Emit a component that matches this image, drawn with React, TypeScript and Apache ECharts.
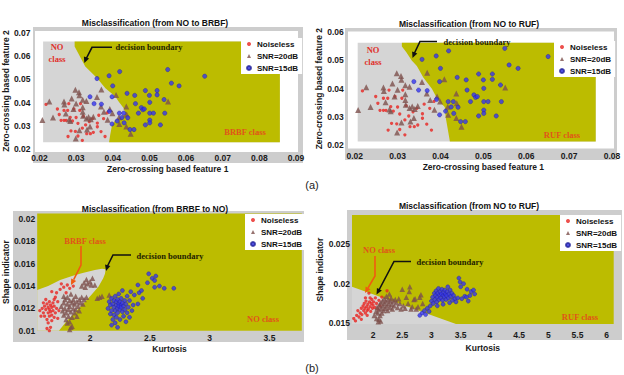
import React, { useEffect, useRef } from 'react';
import * as echarts from 'echarts';

// ---------- names / texts ----------
const seriesNames = ['Noiseless', 'SNR=20dB', 'SNR=15dB'];
const plotTitles = [
  'Misclassification (from NO to BRBF)',
  'Misclassification (from NO to RUF)',
  'Misclassification (from BRBF to NO)',
  'Misclassification (from NO to RUF)',
];
const xNames = ['Zero-crossing based feature 1', 'Zero-crossing based feature 1', 'Kurtosis', 'Kurtosis'];
const yNames = ['Zero-crossing based feature 2', 'Zero-crossing based feature 2', 'Shape indicator', 'Shape indicator'];

// ---------- tick labels ----------
const xTicksA1 = [0.02, 0.03, 0.04, 0.05, 0.06, 0.07, 0.08, 0.09];
const yTicksA1 = [0.02, 0.03, 0.04, 0.05, 0.06, 0.07];
const xTicksA2 = [0.02, 0.03, 0.04, 0.05, 0.06, 0.07, 0.08];
const yTicksA2 = [0.02, 0.03, 0.04, 0.05, 0.06];
const xTicksB1 = [2, 2.5, 3, 3.5];
const yTicksB1 = [0.01, 0.012, 0.014, 0.016, 0.018, 0.02];
const xTicksB2 = [2, 2.5, 3, 3.5, 4, 4.5, 5, 5.5, 6];
const yTicksB2 = [0.015, 0.02, 0.025];

// ---------- (a) zero-crossing features (same samples in both plots) ----------
const zcNoiseless = [
  [0.0218, 0.0392], [0.0249, 0.0372], [0.0254, 0.0348], [0.0259, 0.0323], [0.0267, 0.0323], [0.0273, 0.0323],
  [0.0267, 0.0366], [0.0277, 0.0366], [0.0284, 0.0336], [0.0286, 0.0277], [0.0278, 0.0253], [0.0298, 0.0275],
  [0.0294, 0.0372], [0.031, 0.0366], [0.0317, 0.0289], [0.0317, 0.0236], [0.032, 0.034], [0.0329, 0.0265],
  [0.0339, 0.0265], [0.0347, 0.0271], [0.0358, 0.0311], [0.0358, 0.0295], [0.0368, 0.0274], [0.0379, 0.0253],
  [0.029, 0.032], [0.03, 0.0335], [0.0305, 0.031], [0.0312, 0.0395], [0.028, 0.0395], [0.0326, 0.0303],
  [0.0336, 0.0318], [0.0345, 0.033], [0.0362, 0.0345], [0.0375, 0.033], [0.0385, 0.0355], [0.0305, 0.0255],
];
const zcSnr20 = [
  [0.0208, 0.0324], [0.0227, 0.0405], [0.0237, 0.0335], [0.0267, 0.0404], [0.0268, 0.0392], [0.0272, 0.0352],
  [0.0281, 0.0326], [0.0284, 0.032], [0.0288, 0.0418], [0.0298, 0.0455], [0.0308, 0.0445], [0.0309, 0.0432],
  [0.03, 0.0396], [0.0293, 0.0372], [0.0299, 0.0244], [0.0318, 0.0412], [0.0318, 0.038], [0.0318, 0.036],
  [0.0319, 0.0343], [0.0328, 0.0331], [0.0334, 0.0337], [0.0347, 0.0338], [0.034, 0.0328], [0.0328, 0.0407],
  [0.0338, 0.0296], [0.0309, 0.028], [0.0357, 0.0424], [0.0369, 0.0456], [0.0368, 0.0383], [0.0376, 0.036],
  [0.0386, 0.0325], [0.0392, 0.0372], [0.0399, 0.0354], [0.0409, 0.0433], [0.0417, 0.0336], [0.0418, 0.0307],
  [0.0437, 0.0383], [0.0438, 0.0348], [0.0437, 0.0296], [0.0449, 0.0265], [0.0551, 0.0404], [0.033, 0.0283],
];
const zcSnr15 = [
  [0.0338, 0.0425], [0.0349, 0.0395], [0.0369, 0.0393], [0.0357, 0.0504], [0.039, 0.0516], [0.0391, 0.0362],
  [0.04, 0.0472], [0.0398, 0.0425], [0.0398, 0.0307], [0.0419, 0.0534], [0.0418, 0.0354], [0.043, 0.0354],
  [0.0431, 0.0312], [0.0439, 0.044], [0.0441, 0.0334], [0.0447, 0.0283], [0.0458, 0.0283], [0.046, 0.0431],
  [0.0462, 0.0395], [0.047, 0.0354], [0.0478, 0.0378], [0.0482, 0.0369], [0.0486, 0.0372], [0.0489, 0.0452],
  [0.0489, 0.0303], [0.05, 0.0431], [0.0501, 0.0401], [0.0501, 0.0354], [0.0501, 0.0324], [0.0501, 0.0312],
  [0.0511, 0.0354], [0.0521, 0.0452], [0.0521, 0.0433], [0.054, 0.0413], [0.0542, 0.0354], [0.055, 0.0543],
  [0.056, 0.0484], [0.0581, 0.0472], [0.0651, 0.0514], [0.053, 0.0303], [0.0425, 0.0335], [0.0412, 0.032],
];

// ---------- (b) left: BRBF -> NO ----------
const kuBrbfNoiseless = [
  [1.58, 0.0118], [1.6, 0.012], [1.61, 0.0116], [1.62, 0.0122], [1.62, 0.0113], [1.63, 0.0128], [1.63, 0.0119],
  [1.64, 0.0124], [1.64, 0.011], [1.65, 0.0121], [1.65, 0.0116], [1.65, 0.0107], [1.66, 0.0126], [1.66, 0.0119],
  [1.66, 0.0113], [1.67, 0.0123], [1.67, 0.0117], [1.67, 0.0103], [1.68, 0.0135], [1.68, 0.0121], [1.68, 0.0114],
  [1.68, 0.0109], [1.69, 0.0125], [1.69, 0.0118], [1.7, 0.0122], [1.7, 0.0112], [1.71, 0.013], [1.71, 0.0116],
  [1.72, 0.012], [1.72, 0.0134], [1.73, 0.0126], [1.74, 0.0118], [1.75, 0.0137], [1.76, 0.0142], [1.78, 0.0139],
  [1.8, 0.0134], [1.81, 0.0141], [1.83, 0.0138], [1.86, 0.014], [1.64, 0.0102], [1.66, 0.01], [1.61, 0.0125],
  [1.59, 0.0113], [1.7, 0.0128], [1.73, 0.0111],
];
const kuBrbfSnr20 = [
  [1.76, 0.0122], [1.77, 0.0118], [1.78, 0.0125], [1.78, 0.0114], [1.79, 0.0128], [1.79, 0.012], [1.8, 0.0116],
  [1.8, 0.011], [1.81, 0.0124], [1.81, 0.013], [1.82, 0.0119], [1.82, 0.0113], [1.83, 0.0127], [1.83, 0.0122],
  [1.83, 0.0108], [1.84, 0.0117], [1.84, 0.0133], [1.85, 0.0125], [1.85, 0.0112], [1.85, 0.0104], [1.86, 0.012],
  [1.86, 0.0128], [1.87, 0.0116], [1.87, 0.0124], [1.88, 0.0131], [1.88, 0.0119], [1.89, 0.0126], [1.89, 0.0113],
  [1.9, 0.0122], [1.91, 0.0128], [1.91, 0.0118], [1.92, 0.0125], [1.93, 0.013], [1.94, 0.0124], [1.95, 0.0128],
  [1.97, 0.013], [1.83, 0.0101], [1.84, 0.0103], [1.78, 0.0131], [1.81, 0.0107], [1.93, 0.014], [1.95, 0.0143],
  [1.96, 0.0139], [1.97, 0.0146], [1.98, 0.0142], [2.0, 0.0144], [2.01, 0.0141], [2.04, 0.0141], [2.02, 0.0147],
  [2.06, 0.0129], [2.08, 0.013], [2.1, 0.0131], [2.16, 0.0132],
];
const kuBrbfSnr15 = [
  [2.15, 0.012], [2.16, 0.0126], [2.17, 0.0115], [2.17, 0.0123], [2.18, 0.0129], [2.18, 0.0118], [2.19, 0.011],
  [2.19, 0.0124], [2.2, 0.0121], [2.2, 0.0127], [2.2, 0.0114], [2.21, 0.0131], [2.21, 0.0118], [2.21, 0.0107],
  [2.22, 0.0123], [2.22, 0.0126], [2.22, 0.0112], [2.23, 0.012], [2.23, 0.0128], [2.23, 0.0116], [2.24, 0.0124],
  [2.24, 0.0122], [2.24, 0.0133], [2.25, 0.0119], [2.25, 0.0126], [2.25, 0.011], [2.26, 0.0123], [2.26, 0.0121],
  [2.26, 0.0129], [2.27, 0.0117], [2.27, 0.0125], [2.27, 0.0136], [2.28, 0.0122], [2.28, 0.0113], [2.29, 0.0127],
  [2.29, 0.0119], [2.3, 0.0124], [2.3, 0.0108], [2.31, 0.0131], [2.31, 0.0116], [2.32, 0.0121], [2.33, 0.0127],
  [2.33, 0.0112], [2.34, 0.0135], [2.35, 0.0118], [2.36, 0.0123], [2.37, 0.0132], [2.4, 0.0124], [2.4, 0.0141],
  [2.41, 0.0134], [2.44, 0.0129], [2.43, 0.0136], [2.48, 0.0143], [2.49, 0.0151], [2.52, 0.0147], [2.54, 0.0145],
  [2.55, 0.0149], [2.54, 0.0139], [2.58, 0.014], [2.62, 0.0138], [2.7, 0.0138], [2.18, 0.0105], [2.23, 0.0103],
];

// ---------- (b) right: NO -> RUF ----------
const kuRufNoiseless = [
  [1.67, 0.0156], [1.7, 0.0153], [1.72, 0.016], [1.74, 0.0166], [1.76, 0.0158], [1.78, 0.0163], [1.8, 0.0169],
  [1.81, 0.0161], [1.83, 0.0172], [1.84, 0.0166], [1.85, 0.0175], [1.86, 0.0169], [1.87, 0.0163], [1.88, 0.0178],
  [1.89, 0.0171], [1.9, 0.0166], [1.91, 0.0174], [1.92, 0.0168], [1.93, 0.0188], [1.94, 0.0177], [1.95, 0.0171],
  [1.96, 0.0165], [1.97, 0.0175], [1.98, 0.018], [1.99, 0.0169], [2.0, 0.0173], [2.01, 0.0177], [2.03, 0.017],
  [2.04, 0.0182], [2.06, 0.0175], [2.08, 0.0168], [2.1, 0.0179], [2.12, 0.0172], [2.15, 0.0183], [2.24, 0.0191],
  [1.8, 0.0155], [1.9, 0.016], [1.95, 0.0182], [1.87, 0.0182],
];
const kuRufSnr20 = [
  [2.02, 0.016], [2.05, 0.0165], [2.06, 0.0156], [2.07, 0.017], [2.08, 0.0163], [2.09, 0.0152], [2.1, 0.0167],
  [2.11, 0.0173], [2.12, 0.016], [2.13, 0.0176], [2.14, 0.0169], [2.15, 0.0163], [2.16, 0.0178], [2.17, 0.0172],
  [2.18, 0.0166], [2.19, 0.0181], [2.2, 0.0175], [2.21, 0.0169], [2.22, 0.0178], [2.23, 0.0184], [2.24, 0.0172],
  [2.25, 0.0166], [2.26, 0.018], [2.27, 0.0175], [2.28, 0.0187], [2.29, 0.017], [2.3, 0.0178], [2.31, 0.0182],
  [2.32, 0.0174], [2.33, 0.0168], [2.35, 0.0178], [2.36, 0.0172], [2.38, 0.018], [2.4, 0.0176], [2.42, 0.017],
  [2.44, 0.0181], [2.46, 0.0175], [2.48, 0.0168], [2.5, 0.0193], [2.52, 0.0172], [2.55, 0.0169], [2.57, 0.0183],
  [2.6, 0.0175], [2.62, 0.019], [2.63, 0.0196], [2.65, 0.0168], [2.67, 0.0171], [2.7, 0.018], [2.72, 0.0181],
  [2.74, 0.0168], [2.77, 0.0171], [2.8, 0.0183], [2.82, 0.0186], [2.85, 0.0175], [2.1, 0.0155], [2.13, 0.0153],
];
const kuRufSnr15 = [
  [2.8, 0.016], [2.84, 0.0163], [2.88, 0.0166], [2.9, 0.0161], [2.93, 0.0169], [2.96, 0.0165], [2.98, 0.0172],
  [3.0, 0.0178], [3.02, 0.0183], [3.03, 0.0175], [3.05, 0.0188], [3.06, 0.018], [3.07, 0.0185], [3.08, 0.0191],
  [3.09, 0.0177], [3.1, 0.0183], [3.11, 0.0188], [3.12, 0.0194], [3.13, 0.018], [3.14, 0.0186], [3.15, 0.019],
  [3.16, 0.0182], [3.17, 0.0187], [3.18, 0.0193], [3.19, 0.0179], [3.2, 0.0185], [3.21, 0.0189], [3.22, 0.0183],
  [3.23, 0.0192], [3.24, 0.0187], [3.25, 0.018], [3.26, 0.0185], [3.27, 0.019], [3.28, 0.0196], [3.29, 0.0182],
  [3.3, 0.0187], [3.31, 0.0176], [3.32, 0.0192], [3.33, 0.0184], [3.35, 0.0188], [3.36, 0.0179], [3.38, 0.0185],
  [3.4, 0.0181], [3.42, 0.0177], [3.45, 0.0182], [3.47, 0.0207], [3.49, 0.0202], [3.5, 0.0196], [3.52, 0.0181],
  [3.55, 0.02], [3.57, 0.0184], [3.6, 0.0183], [3.61, 0.0193], [3.63, 0.0178], [3.66, 0.0185], [3.68, 0.019],
  [3.72, 0.0192], [3.74, 0.0187], [3.1, 0.0172], [3.2, 0.0174],
];

// ---------- class regions (decision regions) ----------
const regionA1Grey = [[0.021, 0.0228], [0.0856, 0.0228], [0.0856, 0.0664], [0.021, 0.0664]];
const regionA1Yellow = [
  [0.0296, 0.0664], [0.0856, 0.0664], [0.0856, 0.0228], [0.039, 0.0228], [0.0393, 0.0259], [0.0398, 0.0302],
  [0.0407, 0.0323], [0.0435, 0.035], [0.043, 0.0375], [0.0416, 0.0404], [0.0407, 0.0426], [0.038, 0.0462],
  [0.0357, 0.0506], [0.0325, 0.0556], [0.0296, 0.0643],
];
const regionA2Grey = [[0.0207, 0.0212], [0.0762, 0.0212], [0.0762, 0.0563], [0.0207, 0.0563]];
const regionA2Yellow = [
  [0.031, 0.0563], [0.0762, 0.0563], [0.0762, 0.0212], [0.0422, 0.0212], [0.0412, 0.03], [0.041, 0.0335],
  [0.0394, 0.036], [0.038, 0.04], [0.036, 0.044], [0.0345, 0.048], [0.0333, 0.05], [0.032, 0.053], [0.031, 0.055],
];
const regionB1Yellow = [[1.558, 0.01], [3.77, 0.01], [3.77, 0.0205], [1.558, 0.0205]];
const regionB1Grey = [
  [1.558, 0.01], [1.558, 0.01365], [1.65, 0.014], [1.75, 0.01455], [1.85, 0.0149], [1.93, 0.01515],
  [2.04, 0.01544], [2.1, 0.01556], [2.13, 0.01552], [2.125, 0.0151], [2.11, 0.0147], [2.07, 0.01395],
  [2.01, 0.0132], [1.95, 0.0125], [1.88, 0.0117], [1.8, 0.0108], [1.74, 0.01],
];
const regionB2Yellow = [[1.64, 0.0149], [6.12, 0.0149], [6.12, 0.02866], [1.64, 0.02866]];
const regionB2Grey = [[1.64, 0.0149], [1.64, 0.0196], [3.42, 0.0149]];

// ---------- colours ----------
const RED = '#e8231f';
const BROWN = '#7d504c';
const BLUE = '#3535f0';
const YELLOW = '#bcbc00';
const REGION_GREY = '#d5d5d5';
const FRAME_GREY = '#cdcdcd';
const SANS = 'Liberation Sans, Arial, sans-serif';
const SERIF = 'Liberation Serif, Times New Roman, serif';

const grids = [
  { left: 39, top: 33.3, width: 257, height: 115.4 },
  { left: 354.7, top: 32.3, width: 257.3, height: 112.7 },
  { left: 35, top: 213.6, width: 266.8, height: 117.1 },
  { left: 352, top: 215, width: 261.7, height: 109.1 },
];
const xRanges = [[0.02, 0.09], [0.02, 0.08], [1.558, 3.77], [1.64, 6.12]];
const yRanges = [[0.02, 0.07], [0.02, 0.06], [0.01, 0.0205], [0.0149, 0.02866]];
const xTicks = [xTicksA1, xTicksA2, xTicksB1, xTicksB2];
const yTicks = [yTicksA1, yTicksA2, yTicksB1, yTicksB2];
const xLabelMargin = [5, 6, 3, 6];
const yLabelMargin = [9, 11, 2, 2];
const xNameGap = [16, 17, 14, 19];
const yNameGap = [27, 30, 23, 25];

const fmt = (v: number) => String(parseFloat(v.toFixed(4)));

function polySeries(pts: number[][], color: string, idx: number) {
  return {
    type: 'custom',
    xAxisIndex: idx,
    yAxisIndex: idx,
    silent: true,
    z: 1,
    data: [pts[0]],
    renderItem: (params: any, api: any) => ({
      type: 'polygon',
      shape: { points: pts.map((p) => api.coord(p)) },
      style: { fill: color },
    }),
  };
}

function scatterSeries(data: number[][], kind: number, idx: number, dense: boolean) {
  const sym = ['circle', 'triangle', 'circle'][kind];
  const size = dense ? [3.3, 5.5, 4][kind] : [3.3, 6, 4.3][kind];
  const color = [RED, BROWN, BLUE][kind];
  return {
    type: 'scatter',
    name: seriesNames[kind],
    xAxisIndex: idx,
    yAxisIndex: idx,
    z: 3,
    symbol: sym,
    symbolSize: size,
    itemStyle: kind === 2 ? { color, borderColor: '#22229a', borderWidth: 0.5 } : { color },
    data,
  };
}

function arrow(points: number[][], color: string) {
  const n = points.length;
  const [x1, y1] = points[n - 2];
  const [x2, y2] = points[n - 1];
  const ang = Math.atan2(y2 - y1, x2 - x1);
  const L = 6;
  const W = 2.8;
  const bx = x2 - L * Math.cos(ang);
  const by = y2 - L * Math.sin(ang);
  const px = -Math.sin(ang) * W;
  const py = Math.cos(ang) * W;
  return [
    {
      type: 'polyline',
      z: 60,
      shape: { points: [...points.slice(0, -1), [bx, by]] },
      style: { stroke: color, lineWidth: 1.6, fill: null },
    },
    {
      type: 'polygon',
      z: 60,
      shape: { points: [[x2, y2], [bx + px, by + py], [bx - px, by - py]] },
      style: { fill: color },
    },
  ];
}

function txt(x: number, y: number, text: string, opts: any) {
  return {
    type: 'text',
    z: 60,
    x,
    y,
    style: {
      text,
      textAlign: 'center',
      textVerticalAlign: 'middle',
      font: opts.font,
      fill: opts.fill,
    },
  };
}

export default function App() {
  const ref = useRef<HTMLDivElement>(null);
  useEffect(() => {
    if (!ref.current) return;
    const chart = echarts.init(ref.current, undefined, { renderer: 'svg' });

    const axisLabelStyle = { color: '#1a1a1a', fontSize: 8.5, fontWeight: 'bold', fontFamily: SANS };
    const nameStyle = { color: '#1a1a1a', fontSize: 8.5, fontWeight: 'bold', fontFamily: SANS };

    const xAxis = grids.map((_, i) => ({
      type: 'value',
      gridIndex: i,
      min: xRanges[i][0],
      max: xRanges[i][1],
      name: xNames[i],
      nameLocation: 'middle',
      nameGap: xNameGap[i],
      nameTextStyle: nameStyle,
      axisLine: { show: false },
      axisTick: { show: false },
      splitLine: { show: false },
      axisLabel: { ...axisLabelStyle, customValues: xTicks[i], margin: xLabelMargin[i], formatter: fmt },
    }));
    const yAxis = grids.map((_, i) => ({
      type: 'value',
      gridIndex: i,
      min: yRanges[i][0],
      max: yRanges[i][1],
      name: yNames[i],
      nameLocation: 'middle',
      nameGap: yNameGap[i],
      nameTextStyle: nameStyle,
      axisLine: { show: false },
      axisTick: { show: false },
      splitLine: { show: false },
      axisLabel: { ...axisLabelStyle, customValues: yTicks[i], margin: yLabelMargin[i], formatter: fmt },
    }));

    const series: any[] = [
      polySeries(regionA1Grey, REGION_GREY, 0),
      polySeries(regionA1Yellow, YELLOW, 0),
      polySeries(regionA2Grey, REGION_GREY, 1),
      polySeries(regionA2Yellow, YELLOW, 1),
      polySeries(regionB1Yellow, YELLOW, 2),
      polySeries(regionB1Grey, REGION_GREY, 2),
      polySeries(regionB2Yellow, YELLOW, 3),
      polySeries(regionB2Grey, REGION_GREY, 3),
      scatterSeries(zcNoiseless, 0, 0, false),
      scatterSeries(zcSnr20, 1, 0, false),
      scatterSeries(zcSnr15, 2, 0, false),
      scatterSeries(zcNoiseless, 0, 1, false),
      scatterSeries(zcSnr20, 1, 1, false),
      scatterSeries(zcSnr15, 2, 1, false),
      scatterSeries(kuBrbfNoiseless, 0, 2, true),
      scatterSeries(kuBrbfSnr20, 1, 2, true),
      scatterSeries(kuBrbfSnr15, 2, 2, true),
      scatterSeries(kuRufNoiseless, 0, 3, true),
      scatterSeries(kuRufSnr20, 1, 3, true),
      scatterSeries(kuRufSnr15, 2, 3, true),
    ];

    const legendPos = [
      { left: 241, top: 38 },
      { left: 554, top: 41 },
      { left: 245, top: 214 },
      { left: 560, top: 215 },
    ];
    const legend = legendPos.map((p) => ({
      ...p,
      orient: 'vertical',
      data: seriesNames,
      backgroundColor: '#ffffff',
      padding: [2, 4, 2, 5],
      itemGap: 4,
      itemWidth: 4,
      itemHeight: 4,
      selectedMode: false,
      textStyle: { fontSize: 8, fontWeight: 'bold', fontFamily: SANS, color: '#111', padding: [0, 0, 0, 1] },
    }));

    const titleFont = `bold 8.5px ${SANS}`;
    const annFont = `bold 8.5px ${SERIF}`;
    const graphic: any[] = [
      // frames
      { type: 'rect', z: -10, shape: { x: 33, y: 27, width: 270, height: 136 }, style: { fill: FRAME_GREY } },
      { type: 'rect', z: -9, shape: { x: 35, y: 31, width: 263, height: 121 }, style: { fill: '#ffffff' } },
      { type: 'rect', z: -10, shape: { x: 345, y: 28, width: 272, height: 132 }, style: { fill: FRAME_GREY } },
      { type: 'rect', z: -9, shape: { x: 348, y: 31.5, width: 266, height: 117 }, style: { fill: '#ffffff' } },
      { type: 'rect', z: -10, shape: { x: 13, y: 211, width: 291, height: 131 }, style: { fill: FRAME_GREY } },
      { type: 'rect', z: -10, shape: { x: 347, y: 210, width: 275, height: 130 }, style: { fill: FRAME_GREY } },
      // titles
      txt(155, 22.7, plotTitles[0], { font: titleFont, fill: '#111' }),
      txt(469, 24, plotTitles[1], { font: titleFont, fill: '#111' }),
      txt(155, 209, plotTitles[2], { font: titleFont, fill: '#111' }),
      txt(469, 206, plotTitles[3], { font: titleFont, fill: '#111' }),
      // (a) (b)
      txt(312, 185, '(a)', { font: `11px ${SANS}`, fill: '#222' }),
      txt(312, 368, '(b)', { font: `11px ${SANS}`, fill: '#222' }),
      // plot 1 annotations
      txt(57, 47, 'NO', { font: annFont, fill: '#e0302a' }),
      txt(57, 59, 'class', { font: annFont, fill: '#e0302a' }),
      txt(149, 47, 'decision boundary', { font: annFont, fill: '#222200' }),
      txt(245, 132, 'BRBF class', { font: annFont, fill: '#e0541a' }),
      ...arrow([[112, 47.3], [92, 47.3], [85.5, 60], [84.3, 63]], '#111'),
      // plot 2 annotations
      txt(373, 50, 'NO', { font: annFont, fill: '#e0302a' }),
      txt(373, 62, 'class', { font: annFont, fill: '#e0302a' }),
      txt(477, 42, 'decision boundary', { font: annFont, fill: '#222200' }),
      txt(562, 135, 'RUF class', { font: annFont, fill: '#e0541a' }),
      ...arrow([[437, 41.5], [420, 41.5], [414.5, 53], [412.5, 58]], '#111'),
      // plot 3 annotations
      txt(85, 241, 'BRBF class', { font: annFont, fill: '#e0541a' }),
      ...arrow([[81, 246], [81, 265], [71, 285]], '#f05a10'),
      txt(170, 256, 'decision boundary', { font: annFont, fill: '#222200' }),
      ...arrow([[131, 255], [113, 255], [107.5, 266], [106, 271]], '#111'),
      txt(263, 319, 'NO class', { font: annFont, fill: '#e0541a' }),
      // plot 4 annotations
      txt(379, 250, 'NO class', { font: annFont, fill: '#e0541a' }),
      ...arrow([[375, 256], [375, 276], [365, 293]], '#f05a10'),
      txt(450, 262, 'decision boundary', { font: annFont, fill: '#222200' }),
      ...arrow([[411, 261.5], [394, 261.5], [379, 290], [376.5, 294.5]], '#111'),
      txt(580, 317, 'RUF class', { font: annFont, fill: '#e0541a' }),
    ];

    chart.setOption({
      animation: false,
      backgroundColor: '#ffffff',
      grid: grids.map((g) => ({ ...g, containLabel: false })),
      xAxis,
      yAxis,
      legend,
      series,
      graphic,
    });
    return () => chart.dispose();
  }, []);
  return <div ref={ref} style={{ width: 624, height: 375, position: 'absolute', left: 0, top: 0 }} />;
}
